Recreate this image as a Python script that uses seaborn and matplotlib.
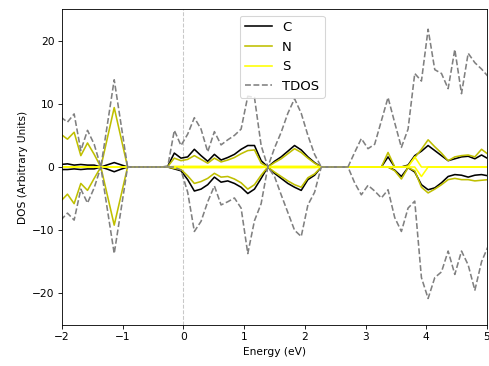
import matplotlib
matplotlib.use("Agg")
import matplotlib.pyplot as plt
import seaborn as sns
import numpy as np

energy = [-2.02, -1.91, -1.80, -1.69, -1.58, -1.47, -1.36, -1.25, -1.14, -1.03,
          -0.92, -0.81, -0.70, -0.59, -0.48, -0.37, -0.26, -0.15, -0.04, 0.07,
          0.18, 0.29, 0.40, 0.51, 0.62, 0.73, 0.84, 0.95, 1.06, 1.17,
          1.28, 1.39, 1.50, 1.61, 1.72, 1.83, 1.94, 2.05, 2.16, 2.27,
          2.38, 2.49, 2.60, 2.71, 2.82, 2.93, 3.04, 3.15, 3.26, 3.37,
          3.48, 3.59, 3.70, 3.81, 3.92, 4.03, 4.14, 4.25, 4.36, 4.47,
          4.58, 4.69, 4.80, 4.91, 5.02]

c_up = [0.4, 0.5, 0.3, 0.4, 0.3, 0.3, 0, 0.35, 0.7, 0.35,
        0, 0, 0, 0, 0, 0, 0.1, 2.2, 1.4, 1.6,
        2.8, 1.8, 0.9, 2.0, 1.1, 1.5, 2.0, 2.8, 3.4, 3.4,
        1.0, 0, 0.9, 1.6, 2.5, 3.4, 2.7, 1.6, 0.7, 0,
        0, 0, 0, 0, 0, 0, 0, 0, 0, 1.6,
        0, 0, 0.3, 1.8, 2.5, 3.4, 2.6, 1.8, 1.0, 1.3,
        1.6, 1.7, 1.3, 1.9, 1.3]
c_dn = [-0.4, -0.4, -0.3, -0.4, -0.3, -0.3, 0, -0.35, -0.75, -0.35,
        0, 0, 0, 0, 0, 0, 0, -0.3, -0.6, -2.0,
        -3.8, -3.5, -2.8, -1.6, -2.4, -2.2, -2.6, -3.2, -4.2, -3.5,
        -1.8, 0, -1.0, -1.8, -2.6, -3.2, -3.7, -2.0, -1.3, 0,
        0, 0, 0, 0, 0, 0, 0, 0, 0, 0,
        -0.5, -1.5, -0.1, -0.8, -2.8, -3.6, -3.3, -2.5, -1.5, -1.2,
        -1.3, -1.6, -1.3, -1.2, -1.4]
n_up = [5.2, 4.4, 5.5, 1.8, 3.8, 2.0, 0, 4.7, 9.4, 4.7,
        0, 0, 0, 0, 0, 0, 0.05, 1.4, 1.0, 1.2,
        1.8, 1.2, 0.6, 1.4, 0.8, 1.1, 1.5, 2.1, 2.6, 2.7,
        0.6, 0, 0.7, 1.3, 2.1, 2.9, 2.3, 1.4, 0.6, 0,
        0, 0, 0, 0, 0, 0, 0, 0, 0, 2.3,
        0, 0, 0.2, 1.5, 2.8, 4.3, 3.2, 2.2, 1.0, 1.6,
        1.8, 1.9, 1.6, 2.8, 2.0]
n_dn = [-5.4, -4.3, -5.8, -2.6, -3.7, -1.8, 0, -4.6, -9.2, -4.6,
        0, 0, 0, 0, 0, 0, 0, -0.2, -0.4, -1.4,
        -2.6, -2.3, -1.8, -1.0, -1.6, -1.5, -1.9, -2.5, -3.5, -2.8,
        -1.3, 0, -0.8, -1.5, -2.2, -2.8, -3.2, -1.7, -1.1, 0,
        0, 0, 0, 0, 0, 0, 0, 0, 0, 0,
        -0.6, -1.9, -0.1, -0.6, -3.2, -4.1, -3.5, -2.8, -2.0, -1.8,
        -2.0, -2.0, -2.2, -2.1, -2.0]
s_up = [0, 0, 0, 0, 0, 0, 0, 0, 0, 0,
        0, 0, 0, 0, 0, 0, 0, 0.1, 0.1, 0.1,
        0.1, 0.1, 0.1, 0.1, 0.1, 0.1, 0.1, 0.1, 0.1, 0.1,
        0.1, 0, 0.1, 0.1, 0.1, 0.1, 0.1, 0.1, 0.1, 0,
        0, 0, 0, 0, 0, 0, 0, 0, 0, 0,
        0, 0, 0, 1.6, 0, 0, 0, 0, 0, 0,
        0, 0, 0, 0, 0]
s_dn = [0, 0, 0, 0, 0, 0, 0, 0, 0, 0,
        0, 0, 0, 0, 0, 0, 0, -0.1, -0.1, -0.1,
        -0.1, -0.1, -0.1, -0.1, -0.1, -0.1, -0.1, -0.1, -0.1, -0.1,
        -0.1, 0, -0.1, -0.1, -0.1, -0.1, -0.1, -0.1, -0.1, 0,
        0, 0, 0, 0, 0, 0, 0, 0, 0, 0,
        0, 0, 0, 0, -1.5, 0, 0, 0, 0, 0,
        0, 0, 0, 0, 0]
tdos_up = [7.9, 7.1, 8.4, 2.6, 5.8, 3.6, 0, 6.9, 13.8, 6.9,
           0, 0, 0, 0, 0, 0, 0, 5.8, 3.4, 5.2,
           7.8, 6.0, 2.4, 5.6, 3.5, 4.3, 5.0, 6.0, 11.2, 11.0,
           3.4, 0, 3.0, 5.5, 8.5, 10.8, 8.5, 5.0, 2.0, 0,
           0, 0, 0, 0, 2.3, 4.5, 2.9, 3.6, 7.3, 11.0,
           7.0, 3.1, 6.0, 14.8, 13.6, 21.8, 15.4, 14.8, 12.4, 18.6,
           11.6, 18.0, 16.5, 15.5, 14.3]
tdos_dn = [-8.4, -7.3, -8.4, -3.5, -5.7, -3.3, 0, -6.9, -13.7, -6.9,
           0, 0, 0, 0, 0, 0, 0, 0, -0.5, -4.0,
           -10.2, -8.6, -5.5, -3.0, -6.0, -5.5, -4.9, -6.5, -13.7, -8.5,
           -5.8, 0, -1.5, -4.4, -7.2, -10.0, -11.0, -6.0, -4.0, 0,
           0, 0, 0, 0, -2.5, -4.4, -2.9, -3.8, -4.9, -3.6,
           -8.0, -10.2, -6.5, -5.4, -17.5, -20.8, -17.5, -16.6, -13.3, -17.0,
           -13.3, -15.5, -19.5, -15.0, -12.5]

labels = ["C", "N", "S", "TDOS"]
colors = ["black", "#bfbf00", "#ffff00", "gray"]
styles = ["-", "-", "-", "--"]

dpi = 76.4
fig = plt.figure(figsize=(489 / dpi, 366 / dpi), dpi=dpi)
ax = fig.add_axes([62 / 489, 1 - 325 / 366, 425 / 489, 316 / 366])

ax.axvline(0, color="#c8c8c8", ls="--", lw=1.0, zorder=0)

series = [(c_up, c_dn), (n_up, n_dn), (s_up, s_dn), (tdos_up, tdos_dn)]
handles = []
for (up, dn), lab, col, st in zip(series, labels, colors, styles):
    sns.lineplot(x=energy, y=up, ax=ax, color=col, linestyle=st, lw=1.5, legend=False)
    sns.lineplot(x=energy, y=dn, ax=ax, color=col, linestyle=st, lw=1.5, legend=False)
    handles.append(plt.Line2D([], [], color=col, linestyle=st, lw=1.5, label=lab))

ax.set_xlim(-2, 5)
ax.set_ylim(-25, 25)
ax.set_yticks([-20, -10, 0, 10, 20])
ax.set_xlabel("Energy (eV)")
ax.set_ylabel("DOS (Arbitrary Units)")
ax.legend(handles=handles, loc="upper center", bbox_to_anchor=(0.518, 1.0),
          fontsize=12.5)

fig.savefig("out.png", dpi=dpi)
